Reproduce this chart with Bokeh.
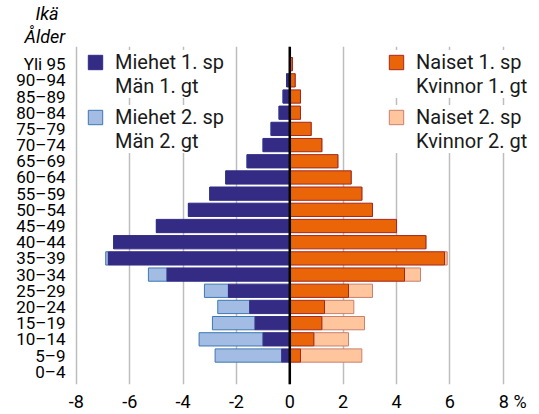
from bokeh.plotting import figure
from bokeh.models import (ColumnDataSource, Range1d, FixedTicker, Span, Legend,
                          LegendItem, Title)
from bokeh.embed import file_html
from bokeh.resources import INLINE

# ---- data (percent of population), bottom (0–4) to top (Yli 95) ----
ages = ["0–4", "5–9", "10–14", "15–19", "20–24", "25–29", "30–34", "35–39",
        "40–44", "45–49", "50–54", "55–59", "60–64", "65–69", "70–74",
        "75–79", "80–84", "85–89", "90–94", "Yli 95"]
men_1 = [0.0, 0.3, 1.0, 1.3, 1.5, 2.3, 4.6, 6.8, 6.6, 5.0, 3.8, 3.0, 2.4,
         1.6, 1.0, 0.7, 0.4, 0.25, 0.12, 0.0]
men_2 = [0.0, 2.5, 2.4, 1.6, 1.2, 0.9, 0.7, 0.1, 0.0, 0.0, 0.0, 0.0, 0.0,
         0.0, 0.0, 0.0, 0.0, 0.0, 0.0, 0.0]
women_1 = [0.0, 0.4, 0.9, 1.2, 1.3, 2.2, 4.3, 5.8, 5.1, 4.0, 3.1, 2.7, 2.3,
           1.8, 1.2, 0.8, 0.4, 0.4, 0.2, 0.1]
women_2 = [0.0, 2.3, 1.3, 1.6, 1.1, 0.9, 0.6, 0.1, 0.0, 0.0, 0.0, 0.0, 0.0,
           0.0, 0.0, 0.0, 0.0, 0.0, 0.0, 0.0]
x_ticks = [-8, -6, -4, -2, 0, 2, 4, 6, 8]
x_tick_labels = ["-8", "-6", "-4", "-2", "0", "2", "4", "6",
                 "\u2007\u00a0\u00a08\u00a0%"]
legend_men_1 = ["Miehet 1. sp", "Män 1. gt"]
legend_men_2 = ["Miehet 2. sp", "Män 2. gt"]
legend_women_1 = ["Naiset 1. sp", "Kvinnor 1. gt"]
legend_women_2 = ["Naiset 2. sp", "Kvinnor 2. gt"]

pos = list(range(len(ages)))
src = ColumnDataSource(dict(
    y=pos,
    m1_left=[-v for v in men_1],
    m2_left=[-(a + b) for a, b in zip(men_1, men_2)],
    zero=[0.0] * len(ages),
    f1_right=women_1,
    f2_right=[a + b for a, b in zip(women_1, women_2)],
))

FONT = "Roboto"
NAVY = "#332B84"
LBLUE = "#A2BCE4"
LBLUE_LINE = "#3E78B0"
ORANGE = "#EA6508"
ORANGE_LINE = "#A3281E"
PEACH = "#FFC59C"
PEACH_LINE = "#C8806E"

p = figure(width=539, height=414, output_backend="svg", toolbar_location=None,
           title=None,
           x_range=Range1d(-8.22, 9.36), y_range=Range1d(-0.79, 20.09),
           min_border_left=70, min_border_right=0, min_border_top=0,
           min_border_bottom=0)
p.outline_line_color = None
p.background_fill_color = "white"

h = 0.82
r_m2 = p.hbar(y="y", left="m2_left", right="m1_left", height=h, source=src,
              fill_color=LBLUE, line_color=LBLUE_LINE, line_width=1)
r_m1 = p.hbar(y="y", left="m1_left", right="zero", height=h, source=src,
              fill_color=NAVY, line_color=NAVY, line_width=1)
r_f2 = p.hbar(y="y", left="f1_right", right="f2_right", height=h, source=src,
              fill_color=PEACH, line_color=PEACH_LINE, line_width=1)
r_f1 = p.hbar(y="y", left="zero", right="f1_right", height=h, source=src,
              fill_color=ORANGE, line_color=ORANGE_LINE, line_width=1)
# invisible renderer used for the second line of each legend entry
blank_src = ColumnDataSource(dict(y=[], left=[], right=[]))
r_blank = p.hbar(y="y", left="left", right="right", height=h, source=blank_src,
                 fill_alpha=0, line_alpha=0)

p.add_layout(Span(location=0, dimension="height", line_color="black",
                  line_width=2.5))

# axes
for ax in (p.xaxis, p.yaxis):
    ax.axis_line_color = None
    ax.major_tick_line_color = None
    ax.minor_tick_line_color = None
    ax.major_tick_out = 0
    ax.minor_tick_out = 0
    ax.major_tick_in = 0
    ax.minor_tick_in = 0
    ax.major_label_text_font = FONT
    ax.major_label_text_color = "black"

p.xaxis.ticker = FixedTicker(ticks=x_ticks)
p.xaxis.major_label_overrides = {t: l for t, l in zip(x_ticks, x_tick_labels)}
p.xaxis.major_label_standoff = 6
p.xaxis.major_label_text_font_size = "18px"

p.yaxis.ticker = FixedTicker(ticks=pos)
p.yaxis.major_label_overrides = {i: a for i, a in zip(pos, ages)}
p.yaxis.major_label_standoff = 5
p.yaxis.major_label_text_font_size = "17px"

p.ygrid.grid_line_color = None
p.xgrid.grid_line_color = "#BDBDBD"
p.xgrid.grid_line_width = 1.5

# legends (each entry: a swatch line + a second text line)
def make_legend(labels, rend, loc):
    items = [LegendItem(label=labels[0], renderers=[rend]),
             LegendItem(label=labels[1], renderers=[r_blank])]
    return Legend(items=items, location=loc, padding=6, margin=0, spacing=0,
                  glyph_width=18, glyph_height=18, label_standoff=11,
                  label_text_font=FONT, label_text_font_size="20px",
                  label_text_color="#1a1a1a",
                  background_fill_color="white", background_fill_alpha=1.0,
                  border_line_color=None)

p.add_layout(make_legend(legend_men_1, r_m1, (16, 286)))
p.add_layout(make_legend(legend_men_2, r_m2, (16, 231)))
p.add_layout(make_legend(legend_women_1, r_f1, (317, 286)))
p.add_layout(make_legend(legend_women_2, r_f2, (317, 231)))

# axis title (two lines) above the age labels
p.add_layout(Title(text="Ålder", align="left", offset=-46, standoff=0,
                   text_font=FONT, text_font_style="italic",
                   text_font_size="18px", text_color="black"), "above")
p.add_layout(Title(text="Ikä", align="left", offset=-35, standoff=0,
                   text_font=FONT, text_font_style="italic",
                   text_font_size="18px", text_color="black"), "above")

open("out.html", "w").write(file_html(p, INLINE))
